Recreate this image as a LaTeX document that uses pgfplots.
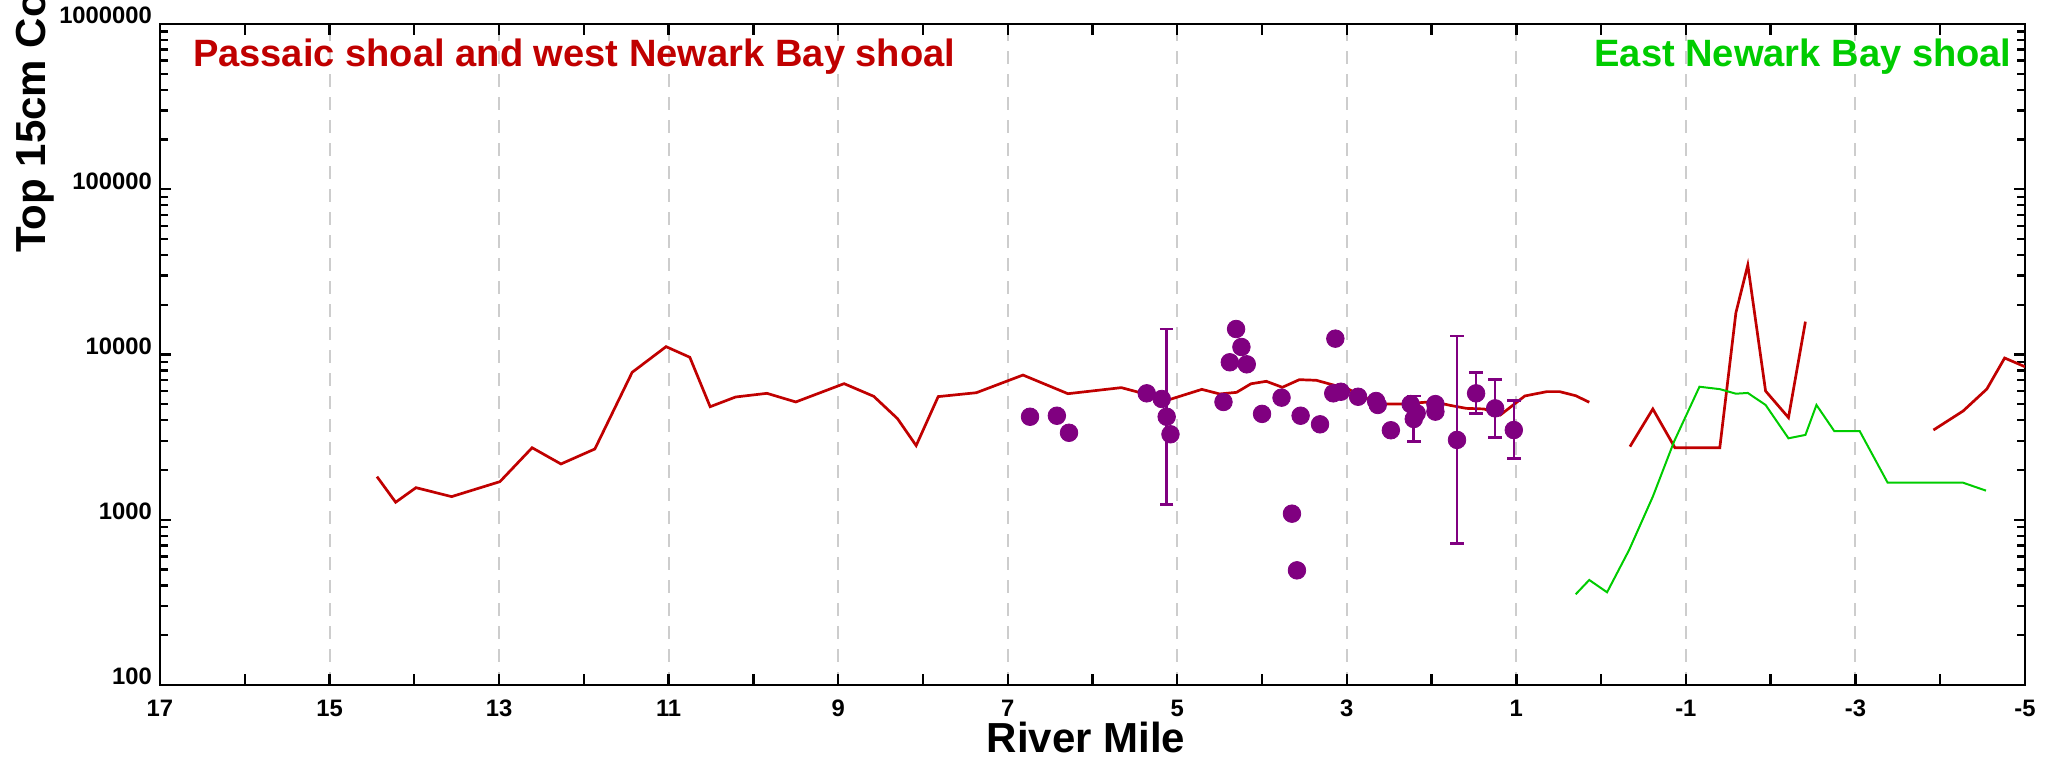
\documentclass[border=0pt]{standalone}
\usepackage{pgfplots}
\pgfplotsset{compat=1.18}
\usepackage{fontspec}
\setmainfont{Liberation Sans}
\definecolor{rd}{RGB}{192,0,0}
\definecolor{gr}{RGB}{0,204,0}
\definecolor{pu}{RGB}{128,0,128}
\definecolor{gridgray}{RGB}{205,205,205}
\begin{document}
\begin{tikzpicture}
\path[use as bounding box] (-80pt,-39pt) rectangle (947.5pt,342.5pt);
\begin{axis}[
  at={(0,0)}, anchor=south west,
  scale only axis, width=932.5pt, height=330.5pt,
  xmin=-5, xmax=17, x dir=reverse,
  ymode=log, ymin=100, ymax=1000000,
  xtick={-5,-3,-1,1,3,5,7,9,11,13,15,17},
  xticklabels={-5,-3,-1,1,3,5,7,9,11,13,15,17},
  extra x ticks={-4,-2,0,2,4,6,8,10,12,14,16},
  extra x tick labels={},
  extra x tick style={grid=none},
  ytick={100,1000,10000,100000,1000000},
  yticklabels={100,1000,10000,100000,1000000},
  tick align=inside, tick pos=both,
  major tick length=5.5pt, minor tick length=4pt,
  xmajorgrids,
  major x grid style={gridgray, dash pattern=on 6.5pt off 5pt, line width=1pt},
  axis line style={line width=1.2pt},
  tick style={black, line width=1.2pt},
  xticklabel style={font=\fontsize{11.9}{14}\selectfont\bfseries, yshift=-4pt},
  yticklabel style={font=\fontsize{11.9}{14}\selectfont\bfseries, anchor=base east, xshift=-0.5pt},
]
\addplot[rd, line width=1.35pt] table {
14.44 1823
14.22 1276
13.98 1563
13.56 1380
12.99 1700
12.61 2727
12.27 2175
11.87 2680
11.43 7800
11.03 11150
10.75 9620
10.51 4830
10.21 5530
9.84 5820
9.50 5160
8.93 6660
8.58 5580
8.30 4090
8.08 2810
7.82 5560
7.37 5870
6.82 7510
6.29 5790
5.66 6300
5.11 5300
4.71 6150
4.50 5770
4.30 5900
4.13 6650
3.95 6880
3.76 6330
3.56 7040
3.36 6980
3.16 6540
3.00 6240
2.77 5430
2.57 5010
2.37 5010
1.98 5180
1.78 4920
1.59 4720
1.38 4680
1.19 4300
0.90 5610
0.64 5960
0.49 5960
0.30 5630
0.14 5140
};
\addplot[rd, line width=1.35pt] table {
-0.34 2770
-0.61 4680
-0.87 2730
-1.40 2730
-1.59 17900
-1.73 34800
-1.94 6010
-2.21 4150
-2.41 15800
};
\addplot[rd, line width=1.35pt] table {
-3.92 3490
-4.27 4550
-4.55 6180
-4.76 9520
-5.00 8430
};
\addplot[gr, line width=1pt] table {
0.30 354
0.14 432
-0.07 364
-0.33 656
-0.61 1380
-0.86 2970
-1.16 6380
-1.40 6170
-1.59 5790
-1.73 5850
-1.94 4950
-2.21 3110
-2.41 3260
-2.54 4950
-2.75 3440
-3.05 3440
-3.38 1675
-3.68 1675
-4.27 1675
-4.54 1500
};
\addplot[only marks, mark=*, mark size=4.4pt, pu, mark options={draw=pu, fill=pu}] table {
6.737 4200
6.42 4260
6.277 3360
5.36 5820
5.183 5380
5.08 3290
4.455 5160
4.306 14260
4.243 11100
4.38 8970
4.18 8720
4.0 4370
3.77 5480
3.647 1088
3.588 494
3.545 4260
3.316 3780
3.135 12470
3.16 5820
3.07 5950
2.867 5550
2.655 5230
2.635 4950
2.48 3480
2.247 5010
2.176 4410
1.955 5010
1.955 4510
};
\addplot[only marks, mark=*, mark size=4.4pt, pu, mark options={draw=pu, fill=pu},
  error bars/.cd, y dir=both, y explicit,
  error bar style={line width=1.3pt, pu},
  error mark options={rotate=90, mark size=3.4pt, line width=1.3pt, pu}]
  table[x=x, y=y, y error plus=ep, y error minus=em] {
x y ep em
5.125 4200 10060 2960
2.21 4070 1540 1100
1.70 3040 9900 2320
1.475 5820 1980 1410
1.25 4720 2360 1570
1.03 3490 1760 1135
};
\end{axis}
\node[rd, anchor=base west, inner sep=0, font=\fontsize{19.05}{23}\selectfont\bfseries] at (16.3pt,309pt) {Passaic shoal and west Newark Bay shoal};
\node[gr, anchor=base east, inner sep=0, font=\fontsize{19.05}{23}\selectfont\bfseries] at (926pt,309pt) {East Newark Bay shoal};
\node[anchor=base, inner sep=0, font=\fontsize{21}{25}\selectfont\bfseries] at (463pt,-34pt) {River Mile};
\node[rotate=90, anchor=base west, inner sep=0, font=\fontsize{21}{25}\selectfont\bfseries] at (-57.2pt,216pt) {Top 15cm Concentration (ng/kg)};
\end{tikzpicture}
\end{document}
